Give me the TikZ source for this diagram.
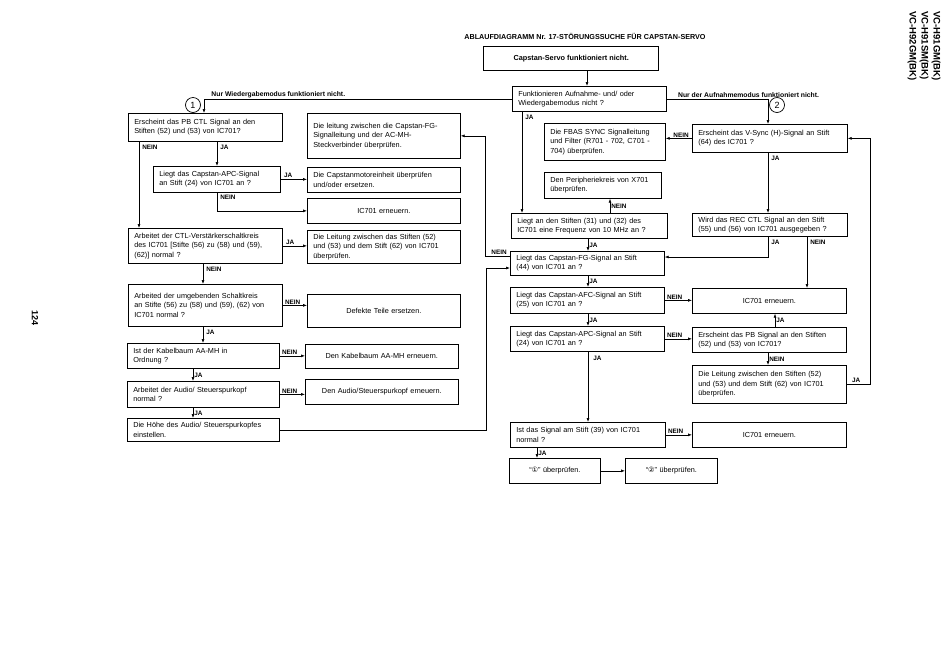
\documentclass[tikz,border=0pt]{standalone}
\usepackage{fontspec}
\setmainfont{Liberation Sans}
\newfontfamily\symfont{DejaVu Sans}
\usetikzlibrary{arrows.meta}
\tikzset{
  box/.style={draw, line width=0.7pt, anchor=north west, inner xsep=6pt, inner ysep=1pt, align=left},
  cbox/.style={box, align=center},
  flow/.style={line width=0.6pt, -{Latex[length=4pt,width=3pt]}},
  lbl/.style={font=\fontsize{6.4}{7}\selectfont\bfseries, inner sep=1pt},
  modelbl/.style={font=\fontsize{6.8}{7}\selectfont\bfseries, inner sep=1pt},
  nr/.style={circle, draw, line width=0.7pt, inner sep=0pt, minimum size=15pt, font=\fontsize{9}{10}\selectfont}
}
\begin{document}
\begin{tikzpicture}[x=1pt, y=-1pt, font=\fontsize{7.3}{9.3}\selectfont]
    \useasboundingbox (0,0) rectangle (950,670);
    % title and page marks
    \node[font=\fontsize{7.2}{8}\selectfont\bfseries] (title) at (585,36) {ABLAUFDIAGRAMM Nr. 17-STÖRUNGSSUCHE FÜR CAPSTAN-SERVO};
    \node[rotate=-90, align=left, font=\fontsize{9.5}{12}\selectfont\bfseries] (model) at (924,46) {VC-H91GM(BK)\\VC-H91SM(BK)\\VC-H92GM(BK)};
    \node[rotate=-90, font=\fontsize{9}{10}\selectfont\bfseries] (page) at (35,318) {124};
    \node[draw, line width=1.4pt, anchor=north west, minimum width=175pt, minimum height=24pt, font=\fontsize{7.3}{9}\selectfont\bfseries] (start) at (483,46) {Capstan-Servo funktioniert nicht.};
    % left column
    \node[box, text width=142pt, minimum height=28pt] (l1) at (128,113) {Erscheint das PB CTL Signal an den\\Stiften (52) und (53) von IC701?};
    \node[box, text width=115pt, minimum height=26pt] (l2) at (153,166) {Liegt das Capstan-APC-Signal\\an Stift (24) von IC701 an ?};
    \node[box, text width=142pt, minimum height=35pt] (l3) at (128,228) {Arbeitet der CTL-Verstärkerschaltkreis\\des IC701 [Stifte (56) zu (58) und (59),\\(62)] normal ?};
    \node[box, text width=142pt, minimum height=42pt] (l4) at (128,284) {Arbeited der umgebenden Schaltkreis\\an Stifte (56) zu (58) und (59), (62) von\\IC701 normal ?};
    \node[box, text width=140pt, minimum height=25pt] (l5) at (127,343) {Ist der Kabelbaum AA-MH in\\Ordnung ?};
    \node[box, text width=140pt, minimum height=26pt] (l6) at (127,381) {Arbeitet der Audio/ Steuerspurkopf\\normal ?};
    \node[box, text width=140pt, minimum height=23pt] (l7) at (127,418) {Die Höhe des Audio/ Steuerspurkopfes\\einstellen.};
    % left remedies
    \node[box, text width=141pt, minimum height=45pt] (r1) at (307,113) {Die leitung zwischen die Capstan-FG-\\Signalleitung und der AC-MH-\\Steckverbinder überprüfen.};
    \node[box, text width=141pt, minimum height=25pt] (r2) at (307,167) {Die Capstanmotoreinheit überprüfen\\und/oder ersetzen.};
    \node[cbox, text width=141pt, minimum height=25pt] (r3) at (307,198) {IC701 erneuern.};
    \node[box, text width=141pt, minimum height=33pt] (r4) at (307,230) {Die Leitung zwischen das Stiften (52)\\und (53) und dem Stift (62) von IC701\\überprüfen.};
    \node[cbox, text width=141pt, minimum height=33pt] (r5) at (307,294) {Defekte Teile ersetzen.};
    \node[cbox, text width=141pt, minimum height=24pt] (r6) at (305,344) {Den Kabelbaum AA-MH erneuern.};
    \node[cbox, text width=141pt, minimum height=25pt] (r7) at (305,379) {Den Audio/Steuerspurkopf erneuern.};
    % middle column
    \node[box, text width=142pt, minimum height=25pt] (m0) at (512,86) {Funktionieren Aufnahme- und/ oder\\Wiedergabemodus nicht ?};
    \node[box, text width=109pt, minimum height=37pt] (m2) at (544,123) {Die FBAS SYNC Signalleitung\\und Filter (R701 - 702, C701 -\\704) überprüfen.};
    \node[box, text width=105pt, minimum height=26pt] (m3) at (544,172) {Den Peripheriekreis von X701\\überprüfen.};
    \node[box, text width=144pt, minimum height=25pt] (m1) at (511,213) {Liegt an den Stiften (31) und (32) des\\IC701 eine Frequenz von 10 MHz an ?};
    \node[box, text width=142pt, minimum height=24pt] (m4) at (510,251) {Liegt das Capstan-FG-Signal an Stift\\(44) von IC701 an ?};
    \node[box, text width=142pt, minimum height=26pt] (m5) at (510,287) {Liegt das Capstan-AFC-Signal an Stift\\(25) von IC701 an ?};
    \node[box, text width=142pt, minimum height=25pt] (m6) at (510,326) {Liegt das Capstan-APC-Signal an Stift\\(24) von IC701 an ?};
    \node[box, text width=143pt, minimum height=25pt] (m7) at (510,422) {Ist das Signal am Stift (39) von IC701\\normal ?};
    \node[cbox, text width=79pt, minimum height=25pt] (m8) at (509,458) {“{\symfont ①}” überprüfen.};
    \node[cbox, text width=80pt, minimum height=25pt] (m9) at (625,458) {“{\symfont ②}” überprüfen.};
    % right column
    \node[box, text width=143pt, minimum height=28pt] (n1) at (692,124) {Erscheint das V-Sync (H)-Signal an Stift\\(64) des IC701 ?};
    \node[box, text width=143pt, minimum height=23pt] (n2) at (692,213) {Wird das REC CTL Signal an den Stift\\(55) und (56) von IC701 ausgegeben ?};
    \node[cbox, text width=142pt, minimum height=25pt] (n3) at (692,288) {IC701 erneuern.};
    \node[box, text width=142pt, minimum height=25pt] (n4) at (692,327) {Erscheint das PB Signal an den Stiften\\(52) und (53) von IC701?};
    \node[box, text width=142pt, minimum height=38pt] (n5) at (692,365) {Die Leitung zwischen den Stiften (52)\\und (53) und dem Stift (62) von IC701\\überprüfen.};
    \node[cbox, text width=142pt, minimum height=25pt] (n6) at (692,422) {IC701 erneuern.};
    % circled entry marks
    \node[nr] (c1) at (193,105) {1};
    \node[nr] (c2) at (777,105) {2};
    % columns of the connectors
    \coordinate (xs) at (587,0);
    \coordinate (wl) at (204,0);
    \coordinate (wr) at (768,0);
    \coordinate (xa) at (139,0);
    \coordinate (xb) at (217,0);
    \coordinate (xc) at (203,0);
    \coordinate (xd) at (193,0);
    \coordinate (xe) at (486,268);
    \coordinate (xf) at (485,256);
    \coordinate (xg) at (522,0);
    \coordinate (xh) at (610,0);
    \coordinate (xi) at (588,0);
    \coordinate (xj) at (537,0);
    \coordinate (xk) at (768,257);
    \coordinate (xl) at (807,0);
    \coordinate (xm) at (775,0);
    \coordinate (xn) at (870,384);
    % start
    \draw[flow] (start.south -| xs) -- (m0.north -| xs);
    \draw[flow] (m0.west) -| node[modelbl, pos=0.49, anchor=south west]{Nur Wiedergabemodus funktioniert nicht.} (l1.north -| wl);
    \draw[flow] (m0.east) -| node[modelbl, pos=0.05, anchor=south west]{Nur der Aufnahmemodus funktioniert nicht.} (n1.north -| wr);
    % left branch
    \draw[flow] (l1.south -| xa) -- node[lbl, at start, anchor=north west, xshift=2pt, yshift=-2pt]{NEIN} (l3.north -| xa);
    \draw[flow] (l1.south -| xb) -- node[lbl, at start, anchor=north west, xshift=2pt, yshift=-2pt]{JA} (l2.north -| xb);
    \draw[flow] (l2.east) -- node[lbl, at start, anchor=south west, xshift=2pt]{JA} (l2.east -| r2.west);
    \draw[flow] (l2.south -| xb) |- node[lbl, at start, anchor=north west, xshift=2pt, yshift=-1pt]{NEIN} (r3.west);
    \draw[flow] (l3.east) -- node[lbl, at start, anchor=south west, xshift=2pt]{JA} (l3.east -| r4.west);
    \draw[flow] (l3.south -| xc) -- node[lbl, at start, anchor=north west, xshift=2pt, yshift=-2pt]{NEIN} (l4.north -| xc);
    \draw[flow] (l4.east) -- node[lbl, at start, anchor=south west, xshift=1pt]{NEIN} (l4.east -| r5.west);
    \draw[flow] (l4.south -| xc) -- node[lbl, at start, anchor=north west, xshift=2pt, yshift=-2pt]{JA} (l5.north -| xc);
    \draw[flow] (l5.east) -- node[lbl, at start, anchor=south west, xshift=1pt]{NEIN} (l5.east -| r6.west);
    \draw[flow] (l5.south -| xd) -- node[lbl, midway, right]{JA} (l6.north -| xd);
    \draw[flow] (l6.east) -- node[lbl, at start, anchor=south west, xshift=1pt]{NEIN} (l6.east -| r7.west);
    \draw[flow] (l6.south -| xd) -- node[lbl, midway, right]{JA} (l7.north -| xd);
    \draw[flow] (l7.east) -| (xe) -- (xe -| m4.west);
    \draw[flow] (m4.west |- xf) -- node[lbl, at start, anchor=south east, xshift=-2pt]{NEIN} (xf) |- (r1.east);
    % middle branch
    \draw[flow] (m0.south -| xg) -- node[lbl, at start, anchor=north west, xshift=2pt, yshift=-2pt]{JA} (m1.north -| xg);
    \draw[flow] (m1.north -| xh) -- node[lbl, midway, right]{NEIN} (m3.south -| xh);
    \draw[flow] (m1.south -| xi) -- node[lbl, midway, right]{JA} (m4.north -| xi);
    \draw[flow] (m4.south -| xi) -- node[lbl, midway, right]{JA} (m5.north -| xi);
    \draw[flow] (m5.south -| xi) -- node[lbl, midway, right]{JA} (m6.north -| xi);
    \draw[flow] (m6.south -| xi) -- node[lbl, at start, anchor=north west, xshift=4pt, yshift=-3pt]{JA} (m7.north -| xi);
    \draw[flow] (m7.south -| xj) -- node[lbl, midway, right]{JA} (m8.north -| xj);
    \draw[flow] (m8.east) -- (m9.west);
    \draw[flow] (m5.east) -- node[lbl, at start, anchor=south west, xshift=1pt]{NEIN} (m5.east -| n3.west);
    \draw[flow] (m6.east) -- node[lbl, at start, anchor=south west, xshift=1pt]{NEIN} (m6.east -| n4.west);
    \draw[flow] (m7.east) -- node[lbl, at start, anchor=south west, xshift=1pt]{NEIN} (m7.east -| n6.west);
    % right branch
    \draw[flow] (n1.west) -- node[lbl, at start, anchor=south east, xshift=-2pt]{NEIN} (n1.west -| m2.east);
    \draw[flow] (n1.south -| wr) -- node[lbl, at start, anchor=north west, xshift=2pt, yshift=-2pt]{JA} (n2.north -| wr);
    \draw[flow] (n2.south -| xk) -- node[lbl, at start, anchor=north west, xshift=2pt, yshift=-2pt]{JA} (xk) -- (xk -| m4.east);
    \draw[flow] (n2.south -| xl) -- node[lbl, at start, anchor=north west, xshift=2pt, yshift=-2pt]{NEIN} (n3.north -| xl);
    \draw[flow] (n4.north -| xm) -- node[lbl, midway, right]{JA} (n3.south -| xm);
    \draw[flow] (n4.south -| wr) -- node[lbl, midway, right]{NEIN} (n5.north -| wr);
    \draw[flow] (n5.east |- xn) -- node[lbl, at start, anchor=south west, xshift=4pt]{JA} (xn) |- (n1.east);
\end{tikzpicture}
\end{document}
